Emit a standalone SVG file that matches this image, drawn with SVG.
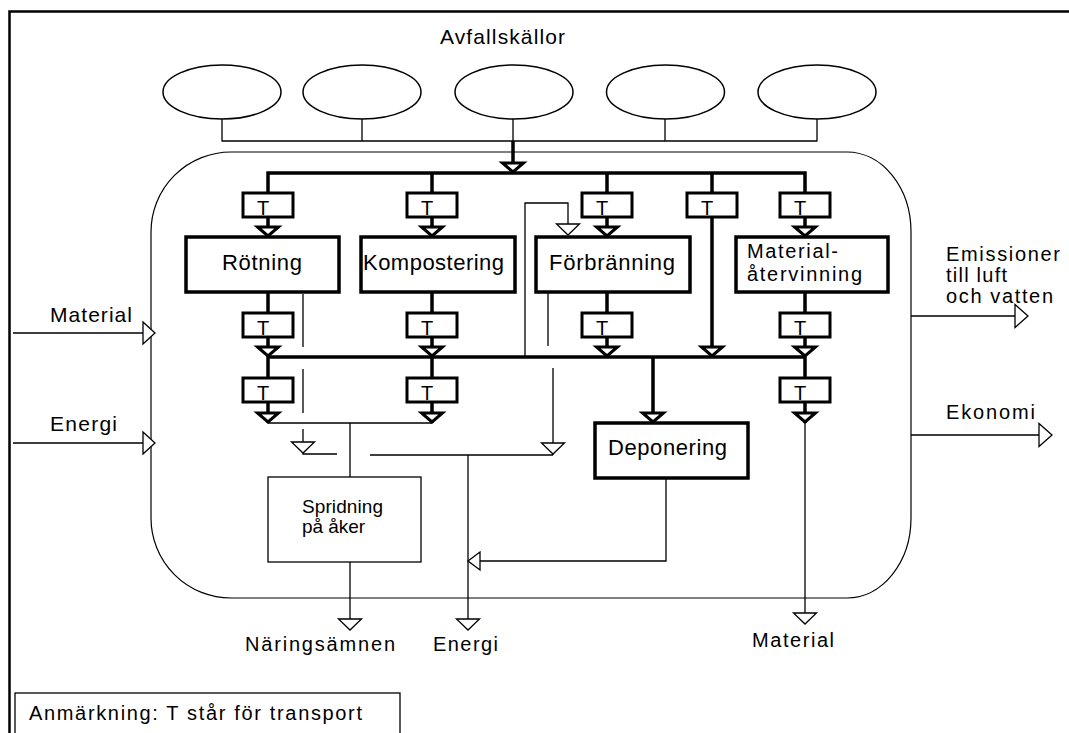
<svg xmlns="http://www.w3.org/2000/svg" xmlns:xlink="http://www.w3.org/1999/xlink" width="1069" height="733" viewBox="0 0 1069 733">
<style>
  .bg { fill: #ffffff; }
  .frame { fill: none; stroke: #000; stroke-width: 2.5; }
  .cont { fill: none; stroke: #000; stroke-width: 1.2; }
  .src { fill: #fff; stroke: #000; stroke-width: 1.5; }
  .box { fill: #fff; stroke: #000; stroke-width: 3.5; }
  .tbox { fill: #fff; stroke: #000; stroke-width: 3; }
  .tbox-group text { font-size: 20px; text-anchor: middle; }
  .thinbox { fill: #fff; stroke: #000; stroke-width: 1.3; }
  .thick { fill: none; stroke: #000; stroke-width: 3.5; stroke-linejoin: miter; }
  .thin { fill: none; stroke: #000; stroke-width: 1.3; }
  .ahk { fill: #fff; stroke: #000; stroke-width: 3; stroke-linejoin: miter; }
  .ahn { fill: #fff; stroke: #000; stroke-width: 1.3; }
  text { font-family: "Liberation Sans", Arial, sans-serif; fill: #000; }
  .lbl { font-size: 22px; }
  .lbl2 { font-size: 21px; }
  .lbl3 { font-size: 20px; }
  .small { font-size: 19px; }
</style>
<defs>
  <path id="arrK" d="M-10.5,-10 L10.5,-10 L0,-1 Z"/>
  <path id="arrD" d="M-11.5,-11 L11.5,-11 L0,0 Z"/>
  <path id="arrL" d="M12,-9 L12,9 L0,0 Z"/>
  <path id="arrR" d="M-12,-11 L-12,11 L0,0 Z"/>
  <path id="arrR2" d="M-13,-11.5 L-13,11.5 L0,0 Z"/>
  <rect id="tb" x="-25" y="0" width="50" height="24"/>
</defs>
<rect class="bg" x="0" y="0" width="1069" height="733"/>

<g id="frame">
  <path class="frame" d="M9.5,733 V11.5 H1069"/>
</g>

<g id="system-boundary">
  <path class="cont" d="M231,152 H847 A64,80 0 0 1 911,232 V518 A64,80 0 0 1 847,598 H231 A80,80 0 0 1 151,518 V232 A80,80 0 0 1 231,152 Z"/>
</g>

<g id="avfallskallor">
  <text class="lbl2" x="440" y="44" textLength="125" lengthAdjust="spacing">Avfallskällor</text>
  <ellipse class="src" cx="222" cy="92" rx="59" ry="27"/>
  <ellipse class="src" cx="362" cy="92" rx="59" ry="27"/>
  <ellipse class="src" cx="514" cy="92" rx="59" ry="27"/>
  <ellipse class="src" cx="665.5" cy="92" rx="59" ry="27"/>
  <ellipse class="src" cx="817" cy="92" rx="59" ry="27"/>
</g>

<g id="connectors">
  <path class="thin" d="M222,119 V141 M362,119 V141 M513,119 V141 M665,119 V141 M817,119 V141 M221.5,141 H817.5"/>
  <path class="thick" d="M513,141 V173"/>
  <use class="ahk" href="#arrK" x="513" y="173"/>
  <path class="thick" d="M268,193 V173 H805 V193"/>
  <path class="thick" d="M432,173 V193 M607,173 V193 M712,173 V193"/>
  <path class="thick" d="M268,217 V237 M432,217 V237 M607,217 V237 M805,217 V237"/>
  <use class="ahk" href="#arrK" x="268" y="237"/>
  <use class="ahk" href="#arrK" x="432" y="237"/>
  <use class="ahk" href="#arrK" x="607" y="237"/>
  <use class="ahk" href="#arrK" x="805" y="237"/>
  <path class="thick" d="M712,217 V357"/>
  <use class="ahk" href="#arrK" x="712" y="357"/>
  <path class="thick" d="M268,292 V313 M432,292 V313 M607,292 V313 M805,292 V313"/>
  <path class="thick" d="M268,337 V357 M432,337 V357 M607,337 V357 M805,337 V357"/>
  <use class="ahk" href="#arrK" x="268" y="357"/>
  <use class="ahk" href="#arrK" x="432" y="357"/>
  <use class="ahk" href="#arrK" x="607" y="357"/>
  <use class="ahk" href="#arrK" x="805" y="357"/>
  <path class="thick" d="M267,357 H805"/>
  <path class="thick" d="M268,357 V378 M432,357 V378 M805,357 V378"/>
  <path class="thick" d="M268,402 V423 M432,402 V423 M805,402 V423 M653,357 V423"/>
  <use class="ahk" href="#arrK" x="268" y="423"/>
  <use class="ahk" href="#arrK" x="432" y="423"/>
  <use class="ahk" href="#arrK" x="805" y="423"/>
  <use class="ahk" href="#arrK" x="653" y="423"/>
  <path class="thin" d="M805,423 V624"/>
  <use class="ahn" href="#arrD" x="805" y="624"/>
  <path class="thin" d="M268,423 H432 M350,423 V477"/>
  <path class="thin" d="M350,562 V630"/>
  <use class="ahn" href="#arrD" x="350" y="630"/>
  <path class="thin" d="M303,294 V347 M303,369 V413 M303,429 V454 H337 M370,455 H553"/>
  <use class="ahn" href="#arrD" x="303" y="453"/>
  <path class="thin" d="M548,293 V346 M553,368 V455"/>
  <use class="ahn" href="#arrD" x="553" y="454"/>
  <path class="thin" d="M525,357 V203 H568 V235"/>
  <use class="ahn" href="#arrD" x="568" y="235"/>
  <path class="thin" d="M468,455 V630"/>
  <use class="ahn" href="#arrD" x="468" y="630"/>
  <path class="thin" d="M666,478 V561 H480"/>
  <use class="ahn" href="#arrL" x="468" y="561"/>
  <path class="thin" d="M13,333 H155 M13,443 H155"/>
  <use class="ahn" href="#arrR" x="155" y="333"/>
  <use class="ahn" href="#arrR" x="155" y="443"/>
  <path class="thin" d="M911,316 H1028 M911,435 H1052"/>
  <use class="ahn" href="#arrR2" x="1028" y="316"/>
  <use class="ahn" href="#arrR2" x="1052" y="435"/>
</g>

<g id="t-boxes" class="tbox-group">
  <use class="tbox" href="#tb" x="268" y="193"/><text x="263" y="215">T</text>
  <use class="tbox" href="#tb" x="432" y="193"/><text x="427" y="215">T</text>
  <use class="tbox" href="#tb" x="607" y="193"/><text x="602" y="215">T</text>
  <use class="tbox" href="#tb" x="712" y="193"/><text x="707" y="215">T</text>
  <use class="tbox" href="#tb" x="805" y="193"/><text x="800" y="215">T</text>
  <use class="tbox" href="#tb" x="268" y="313"/><text x="263" y="335">T</text>
  <use class="tbox" href="#tb" x="432" y="313"/><text x="427" y="335">T</text>
  <use class="tbox" href="#tb" x="607" y="313"/><text x="602" y="335">T</text>
  <use class="tbox" href="#tb" x="805" y="313"/><text x="800" y="335">T</text>
  <use class="tbox" href="#tb" x="268" y="378"/><text x="263" y="400">T</text>
  <use class="tbox" href="#tb" x="432" y="378"/><text x="427" y="400">T</text>
  <use class="tbox" href="#tb" x="805" y="378"/><text x="800" y="400">T</text>
</g>

<g id="rotning">
  <rect class="box" x="186" y="237" width="153" height="55"/>
  <text class="lbl" x="222" y="270" textLength="80" lengthAdjust="spacing">Rötning</text>
</g>
<g id="kompostering">
  <rect class="box" x="361" y="237" width="154" height="55"/>
  <text class="lbl" x="363" y="270" textLength="141" lengthAdjust="spacing">Kompostering</text>
</g>
<g id="forbranning">
  <rect class="box" x="536" y="237" width="154" height="55"/>
  <text class="lbl" x="549" y="270" textLength="126" lengthAdjust="spacing">Förbränning</text>
</g>
<g id="materialatervinning">
  <rect class="box" x="736" y="237" width="152" height="55"/>
  <text class="lbl3" x="747" y="258" textLength="91" lengthAdjust="spacing">Material-</text>
  <text class="lbl3" x="747" y="281" textLength="115" lengthAdjust="spacing">återvinning</text>
</g>
<g id="deponering">
  <rect class="box" x="595" y="423" width="153" height="55"/>
  <text class="lbl" x="608" y="455" textLength="119" lengthAdjust="spacing">Deponering</text>
</g>
<g id="spridning">
  <rect class="thinbox" x="268" y="477" width="153" height="85"/>
  <text class="small" x="302" y="513" textLength="81" lengthAdjust="spacing">Spridning</text>
  <text class="small" x="302" y="533" textLength="63" lengthAdjust="spacing">på åker</text>
</g>

<g id="inputs">
  <text class="lbl2" x="50" y="322" textLength="82" lengthAdjust="spacing">Material</text>
  <text class="lbl2" x="50" y="431" textLength="67" lengthAdjust="spacing">Energi</text>
</g>
<g id="outputs-right">
  <text class="lbl3" x="946" y="261" textLength="114" lengthAdjust="spacing">Emissioner</text>
  <text class="lbl3" x="946" y="282" textLength="61" lengthAdjust="spacing">till luft</text>
  <text class="lbl3" x="946" y="303" textLength="107" lengthAdjust="spacing">och vatten</text>
  <text class="lbl3" x="946" y="419" textLength="89" lengthAdjust="spacing">Ekonomi</text>
</g>
<g id="outputs-bottom">
  <text class="lbl3" x="245" y="651" textLength="150" lengthAdjust="spacing">Näringsämnen</text>
  <text class="lbl3" x="433" y="651" textLength="65" lengthAdjust="spacing">Energi</text>
  <text class="lbl3" x="752" y="647" textLength="82" lengthAdjust="spacing">Material</text>
</g>

<g id="note">
  <rect class="thinbox" x="15" y="693" width="385" height="50"/>
  <text class="lbl3" x="29" y="720" textLength="333" lengthAdjust="spacing">Anmärkning: T står för transport</text>
</g>
</svg>
